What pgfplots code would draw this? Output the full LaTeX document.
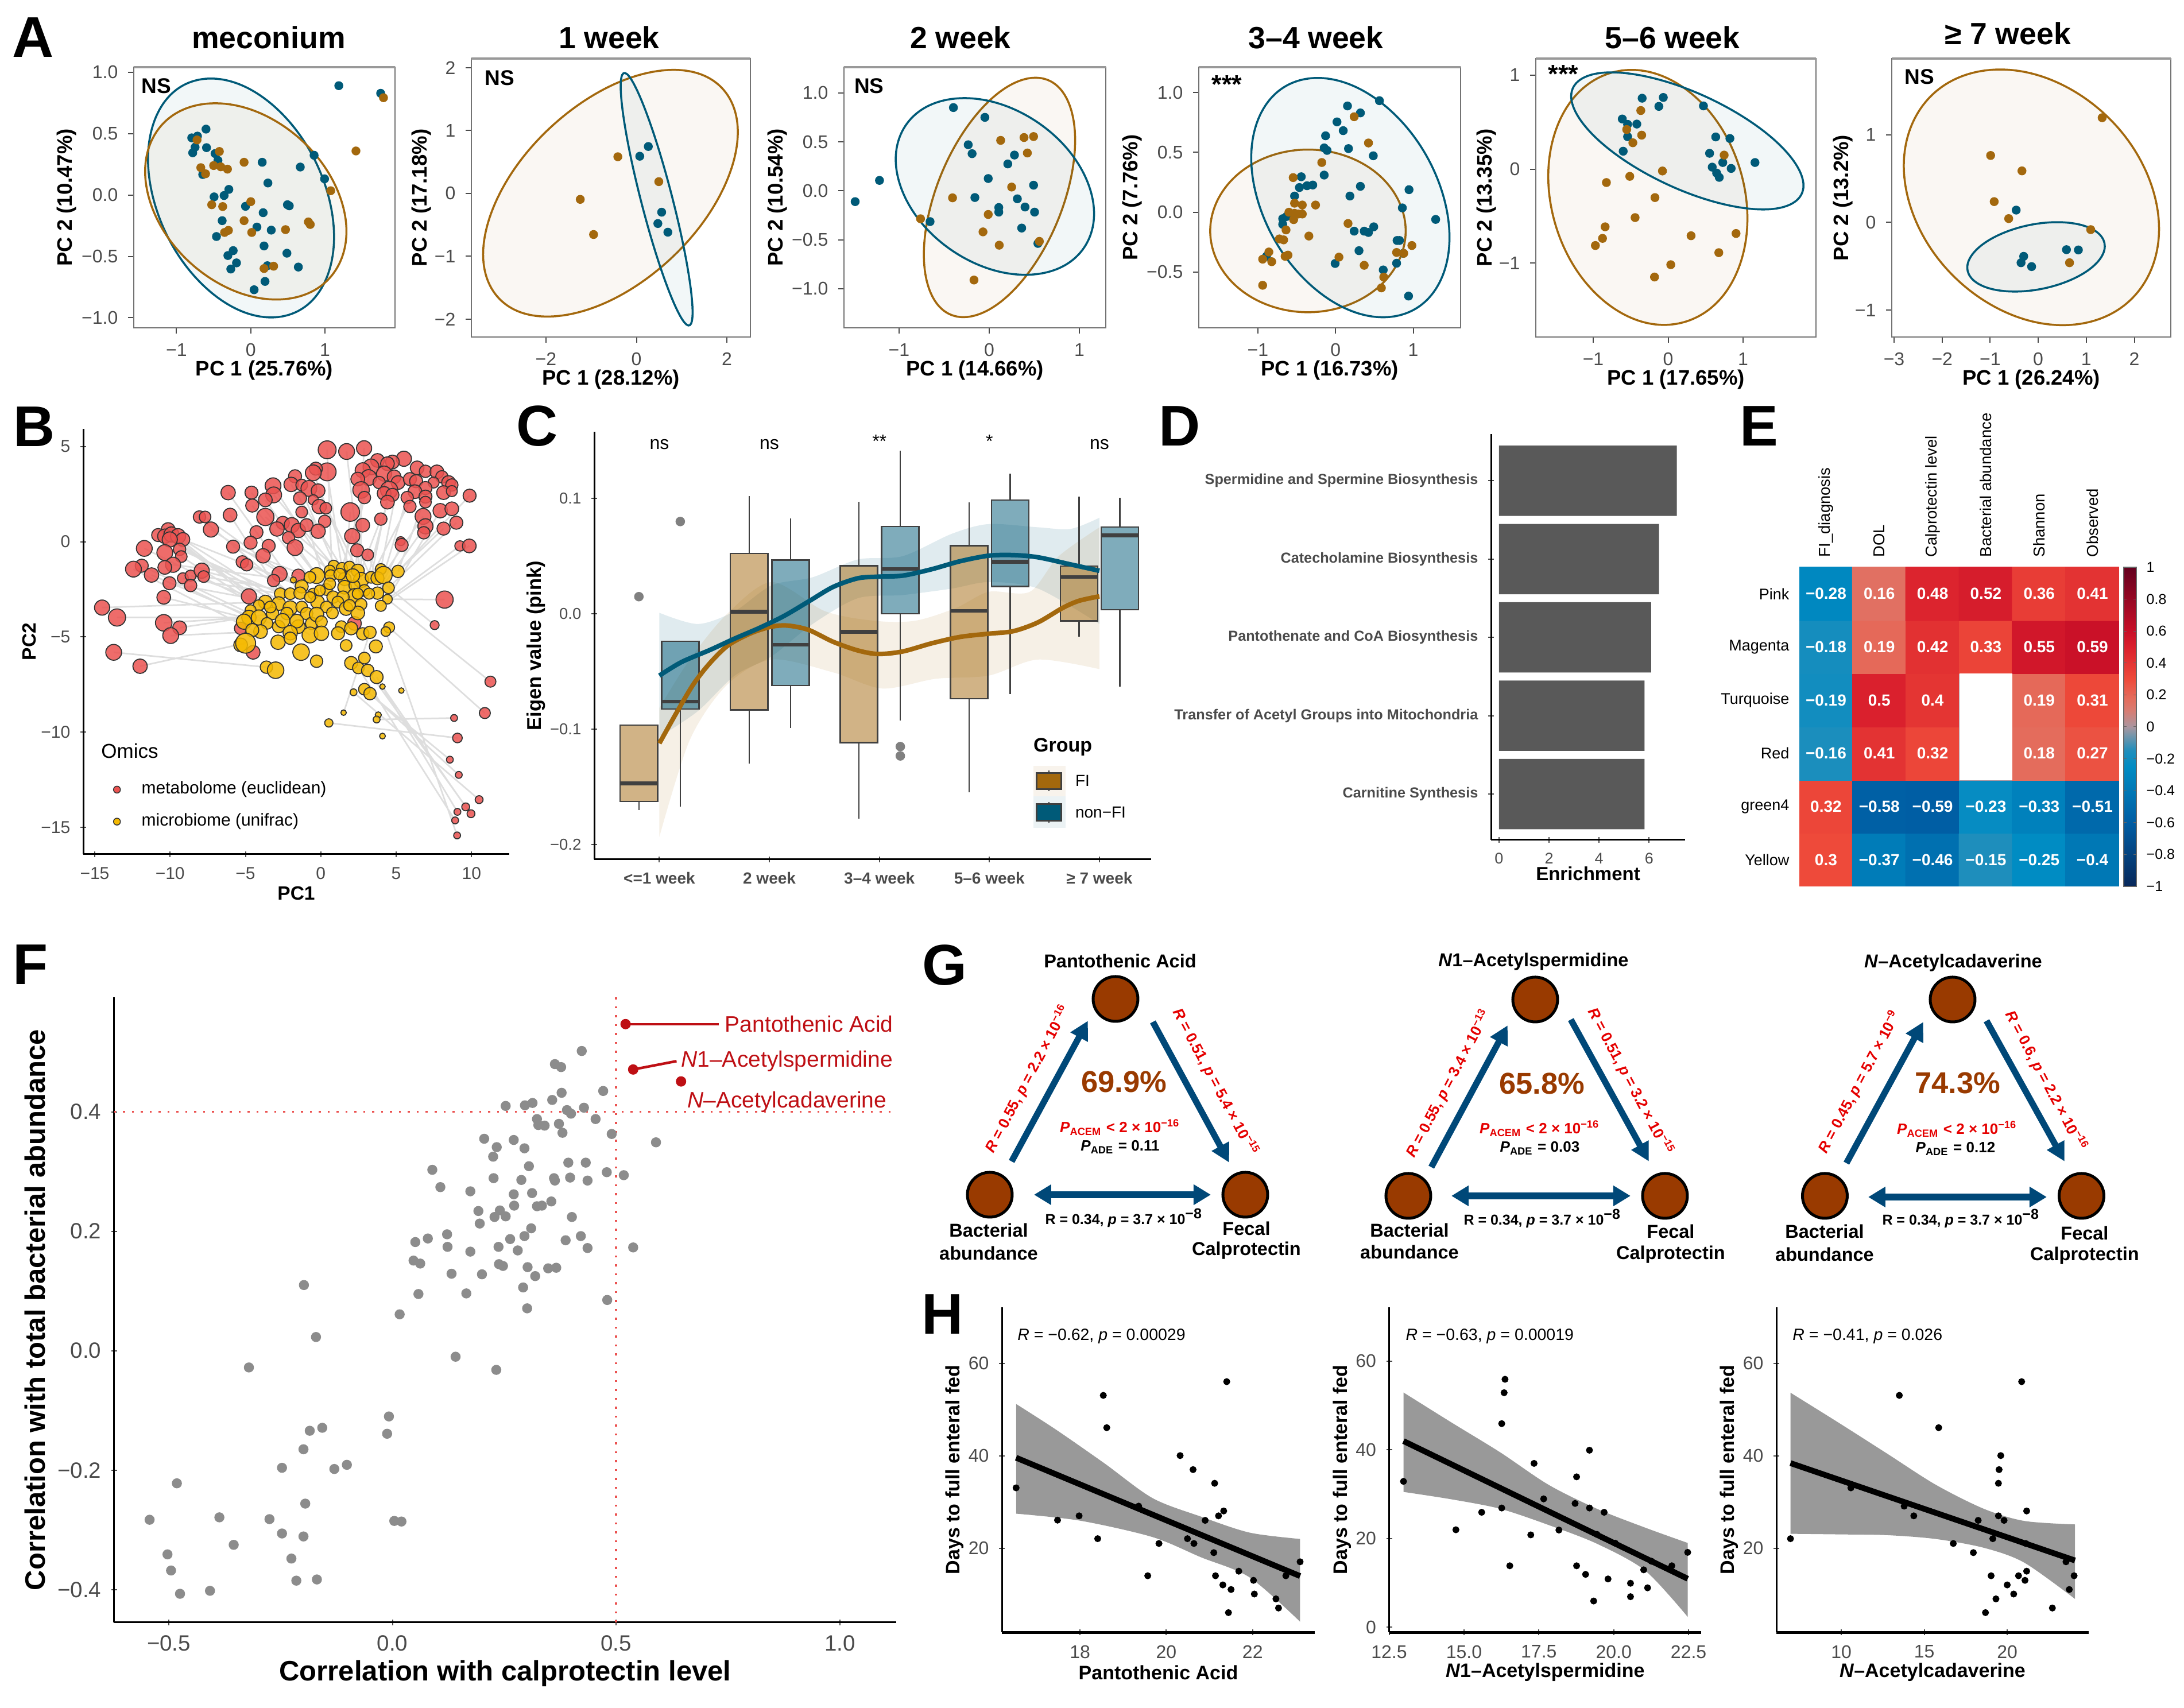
\documentclass[border=0pt]{standalone}
\usepackage{fontspec}
\setmainfont{Liberation Sans}
\usepackage{pgfplots}
\usepackage{pgfplotstable}
\pgfplotsset{compat=1.18}
\usepgfplotslibrary{statistics,fillbetween}
\usetikzlibrary{arrows.meta}

\definecolor{fi}{RGB}{163,104,13}
\definecolor{nonfi}{RGB}{0,90,120}
\definecolor{tickgray}{RGB}{75,75,75}
\definecolor{cred}{RGB}{235,82,80}
\definecolor{cyel}{RGB}{245,185,0}
\definecolor{hot}{RGB}{190,15,20}
\definecolor{node}{RGB}{153,58,0}
\definecolor{arr}{RGB}{0,72,120}
\newcommand{\fs}[1]{\fontsize{#1}{#1}\selectfont}

\pgfplotsset{
  colormap={hm}{rgb255(0)=(8,40,90) rgb255(40)=(0,93,163) rgb255(75)=(0,140,195) rgb255(85)=(30,142,188) rgb255(95)=(120,150,170) rgb255(100)=(170,150,160) rgb255(110)=(215,125,115) rgb255(118)=(228,108,92) rgb255(130)=(238,74,58) rgb255(150)=(218,32,45) rgb255(160)=(200,15,40) rgb255(200)=(100,0,30)},
  xoff/.style={xlabel style={at={([yshift=-#1]axis description cs:0.5,0)},anchor=center}},
  yoff/.style={ylabel style={at={([xshift=-#1]axis description cs:0,0.5)},anchor=center}},
  every axis title shift=0pt,
  ttl/.style 2 args={title style={at={([xshift=#1,yshift=#2]axis description cs:0.5,1)},anchor=center,font=\fs{10.7}\bfseries}},
  base/.style={scale only axis,anchor=south west,tick align=outside,scaled ticks=false,
    /pgf/number format/assume math mode=true,
    tick label style={font=\fs{6.4},text=tickgray},tick style={tickgray,line width=.4pt},major tick length=2pt,
    label style={font=\fs{7.3}\bfseries}},
  pca/.style={base,axis line style={draw=black!55,line width=.5pt},xtick pos=bottom,ytick pos=left,xoff=14.8pt,
    after end axis/.code={\draw[black!40,line width=.9pt] (rel axis cs:0,1) -- (rel axis cs:1,1);}},
  clean/.style={base,axis lines=left,axis line style={-,line width=.6pt,black}},
  elT/.style={smooth cycle,tension=.67,no markers,draw=nonfi,line width=.7pt,fill=nonfi,fill opacity=.05},
  elF/.style={smooth cycle,tension=.67,no markers,draw=fi,line width=.7pt,fill=fi,fill opacity=.05},
  dotT/.style={only marks,mark=*,mark size=1.35pt,mark options={fill=nonfi,draw=nonfi}},
  dotF/.style={only marks,mark=*,mark size=1.35pt,mark options={fill=fi,draw=fi}},
  bub/.style={scatter,only marks,mark=*,visualization depends on={1.2*\thisrow{s}\as\ms},
    scatter/use mapped color={draw=black!80,fill=#1,fill opacity=.85,line width=.35pt},
    scatter/@pre marker code/.append style={/tikz/mark size=\ms}},
  boxF/.style={boxplot/draw direction=y,boxplot/box extend=.34,boxplot/whisker extend=0,boxplot/every median/.style={line width=1.3pt},
    draw=black!75,line width=.5pt,fill=fi,fill opacity=.5,mark=*,mark size=1.4pt,mark options={fill=gray,draw=gray,fill opacity=1}},
  boxT/.style={boxF,fill=nonfi},
  edge/.style={smooth,no markers,draw=none,forget plot},
  hline/.style={no markers,line width=2pt,black},
  hband/.style={draw=none,fill=black!40},
  hdot/.style={only marks,mark=*,mark size=1pt,black},
  hax/.style={clean,x axis line style={line width=1pt},xoff=14pt,yoff=16.4pt,label style={font=\fs{6.8}\bfseries},
    ylabel={Days to full enteral fed}},
}

\pgfplotstableread{
x y v lab
0 0 0.30 0.3
1 0 -0.37 −0.37
2 0 -0.46 −0.46
3 0 -0.15 −0.15
4 0 -0.25 −0.25
5 0 -0.40 −0.4
0 1 0.32 0.32
1 1 -0.58 −0.58
2 1 -0.59 −0.59
3 1 -0.23 −0.23
4 1 -0.33 −0.33
5 1 -0.51 −0.51
0 2 -0.16 −0.16
1 2 0.41 0.41
2 2 0.32 0.32
3 2 0 {}
4 2 0.18 0.18
5 2 0.27 0.27
0 3 -0.19 −0.19
1 3 0.50 0.5
2 3 0.40 0.4
3 3 0 {}
4 3 0.19 0.19
5 3 0.31 0.31
0 4 -0.18 −0.18
1 4 0.19 0.19
2 4 0.42 0.42
3 4 0.33 0.33
4 4 0.55 0.55
5 4 0.59 0.59
0 5 -0.28 −0.28
1 5 0.16 0.16
2 5 0.48 0.48
3 5 0.52 0.52
4 5 0.36 0.36
5 5 0.41 0.41
}\hmtab

\pgfplotstableread{
x y s
0.42 4.83 2.6
1.71 4.74 2.3
2.87 4.91 2.2
3.76 4.27 2.0
5.51 4.36 2.2
4.75 4.19 2.0
4.42 4.10 2.0
3.33 3.93 2.3
2.78 3.75 2.2
4.20 3.58 2.2
3.17 3.37 2.3
2.45 3.29 2.0
2.67 2.72 2.4
2.89 2.32 1.8
3.87 3.11 1.8
4.86 3.41 2.0
5.12 3.11 2.0
4.53 2.72 2.5
4.20 2.54 2.0
4.75 2.46 1.9
4.42 2.08 2.0
6.39 3.88 2.0
6.94 3.70 1.8
7.70 3.67 2.0
8.03 3.41 1.8
8.47 3.11 2.0
8.69 2.98 1.8
8.14 2.58 2.0
8.69 2.66 1.6
7.48 3.11 1.6
5.91 3.29 1.9
6.32 3.18 1.9
6.94 2.82 1.9
6.24 2.63 2.0
6.94 2.37 1.9
5.73 2.32 1.8
5.91 1.85 1.8
6.94 2.08 1.7
7.92 1.63 2.1
8.69 1.73 2.0
9.87 2.42 1.9
6.78 1.33 2.3
6.94 0.81 2.2
6.83 0.47 1.8
8.14 0.69 1.9
8.99 1.00 1.9
9.23 -0.22 1.5
9.85 -0.22 2.0
5.30 0.03 1.3
5.36 -0.17 1.9
3.98 1.19 1.8
2.78 0.87 2.0
1.95 1.56 2.7
2.08 0.29 2.2
2.41 -0.45 1.9
3.11 -0.69 1.7
0.42 3.67 2.6
-0.33 3.84 1.9
-0.50 3.62 2.3
-1.71 3.44 1.9
-1.97 3.01 2.1
-1.27 2.98 1.7
-0.79 2.80 2.3
-0.18 2.68 2.0
-3.17 2.94 2.3
-3.13 2.46 2.3
-3.68 2.20 2.0
-4.60 2.58 1.9
-4.55 1.90 1.9
-6.15 2.58 2.1
-6.02 1.40 2.0
-8.05 1.30 1.8
-7.68 1.30 1.7
-7.29 0.64 2.2
-1.38 2.28 1.9
-0.50 2.20 1.5
-0.11 1.85 2.1
0.33 1.76 1.7
-1.27 1.56 1.7
-3.68 1.30 2.5
-2.52 0.99 1.9
-1.93 0.87 2.2
-2.91 0.67 2.1
-1.49 0.59 2.1
-0.94 0.87 1.9
0.26 1.07 1.8
-0.18 0.55 2.1
-4.27 0.50 1.9
-4.66 -0.05 1.9
-2.14 0.21 1.8
-1.71 -0.31 2.3
-3.46 -0.22 1.9
-3.83 -0.74 2.1
-5.82 -0.26 1.9
-5.21 -1.06 1.8
-4.92 -1.21 1.8
-10.13 0.64 2.0
-10.79 0.35 1.9
-10.35 0.29 2.1
-9.91 0.38 2.2
-9.47 0.29 2.2
-9.15 0.12 2.0
-10.02 0.12 2.2
-11.71 -0.35 2.3
-10.35 -0.57 2.3
-9.37 -0.40 1.8
-9.26 -0.78 1.7
-9.80 -1.21 2.2
-10.35 -1.35 2.0
-11.88 -1.26 1.9
-12.43 -1.44 2.3
-11.23 -1.75 2.1
-10.04 -2.18 1.9
-9.15 -1.92 1.6
-8.64 -1.78 1.6
-8.64 -2.30 1.8
-7.90 -1.52 2.2
-7.77 -1.83 1.7
-10.42 -2.92 2.0
-14.51 -3.46 2.2
-13.52 -3.98 2.5
-10.42 -4.26 2.4
-9.37 -4.52 2.0
-9.96 -4.93 2.3
-13.74 -5.81 2.3
-11.99 -6.54 2.1
-2.74 -1.70 2.2
-3.13 -2.04 1.8
-1.49 -1.78 1.9
-4.77 -2.87 2.2
-5.32 -4.55 1.8
-4.49 -5.81 2.0
2.23 -4.29 2.0
8.21 -3.04 2.5
7.55 -4.38 1.3
11.25 -7.35 1.6
10.88 -9.00 1.6
8.84 -9.26 1.0
9.06 -10.31 1.4
8.56 -11.45 1.0
9.15 -12.25 1.0
10.50 -13.55 1.15
9.61 -13.93 1.15
9.06 -14.19 1.0
9.96 -14.29 1.15
8.91 -14.64 1.0
9.04 -15.43 1.0
}\redtab

\pgfplotstableread{
x y s
0.85 -1.26 1.6
1.40 -1.38 1.6
1.90 -1.31 1.6
2.45 -1.52 1.9
0.59 -1.52 1.6
3.98 -1.44 1.6
5.12 -1.56 1.8
-0.28 -1.78 2.3
0.66 -1.78 1.7
1.58 -1.96 1.9
2.67 -2.01 2.2
3.33 -1.87 1.7
3.76 -1.92 1.9
4.16 -1.75 2.5
-1.82 -2.01 0.9
-0.72 -1.87 1.7
-1.27 -2.35 1.9
1.58 -2.39 2.0
0.37 -2.51 1.7
2.23 -2.30 1.6
2.89 -2.56 1.7
4.49 -2.42 1.7
3.76 -2.70 1.8
-2.69 -2.73 1.7
-2.03 -2.73 1.7
-1.38 -2.70 1.8
-0.50 -2.73 1.6
0.81 -2.91 1.8
2.23 -2.82 2.0
1.47 -2.91 1.8
4.42 -3.02 1.4
-3.68 -3.17 2.0
-2.80 -3.25 2.0
-0.22 -3.17 2.0
1.13 -3.17 1.7
2.67 -3.29 1.7
3.98 -3.37 1.6
-2.03 -3.48 2.1
-1.27 -3.43 1.7
0.37 -3.43 1.7
1.68 -3.51 2.0
-4.11 -3.34 1.6
-3.20 -3.77 1.8
2.45 -3.74 2.0
0.77 -3.74 1.7
-0.94 -3.77 1.8
-2.25 -3.77 1.8
1.90 -3.34 1.7
3.20 -2.73 1.6
0.59 -2.21 1.7
-0.07 -2.56 1.6
1.25 -1.70 1.7
2.12 -1.78 2.0
-0.61 -4.29 1.8
-1.49 -4.46 2.0
-2.80 -4.46 1.8
-4.66 -3.60 1.6
-3.35 -3.43 1.7
2.45 -2.73 1.6
-0.72 -2.91 1.6
-4.77 -3.98 2.1
-4.11 -3.98 2.2
-2.54 -4.15 2.1
-1.60 -4.17 2.0
-0.28 -3.82 2.1
-3.57 -4.29 1.7
-5.10 -4.20 2.2
0.04 -4.20 1.7
1.36 -4.46 1.7
2.01 -4.55 1.9
4.53 -4.50 1.6
4.31 -4.72 1.4
1.14 -4.81 1.9
2.78 -4.84 1.8
3.26 -4.76 1.8
-4.00 -4.72 2.0
-4.55 -4.64 1.9
-2.03 -4.78 2.1
-0.72 -4.90 2.3
0.04 -4.81 2.1
-5.32 -5.42 2.0
-4.99 -5.33 2.9
-2.84 -5.28 2.1
-2.03 -5.07 1.8
1.68 -5.45 1.7
3.65 -5.50 1.9
-1.31 -5.80 2.4
-0.28 -6.28 1.8
-3.61 -6.59 1.8
-3.00 -6.75 2.4
2.01 -6.37 1.9
2.89 -6.11 1.7
2.49 -6.63 1.7
3.11 -6.76 1.8
3.70 -7.11 1.9
2.89 -7.75 1.7
3.26 -7.98 1.8
2.17 -7.91 1.0
4.09 -7.61 0.8
5.34 -7.82 0.8
1.51 -8.98 0.8
0.53 -9.52 1.2
3.81 -9.10 0.9
3.70 -9.34 1.0
4.09 -10.21 0.85
}\yeltab

\begin{document}
\begin{tikzpicture}

% ---------- A
\begin{axis}[pca,at={(46.6pt,480.6pt)},width=91pt,height=90.8pt,xmin=-1.576,xmax=1.943,ymin=-1.082,ymax=1.042,
  xtick={-1,0,1},xticklabels={−1,0,1},ytick={-1,-0.5,0,0.5,1},yticklabels={−1.0,−0.5,0.0,0.5,1.0},
  title={meconium},ttl={1.5pt}{10.4pt},xlabel={PC 1 (25.76\%)},ylabel={PC 2 (10.47\%)},yoff=23.4pt]
\addplot[elT] coordinates {(1.122,-.341)(.755,.403)(-.131,.897)(-1.017,.851)(-1.384,.293)(-1.017,-.451)(-.131,-.945)(.755,-.899)};
\addplot[elF] coordinates {(1.289,-.296)(.892,.314)(-.067,.71)(-1.026,.659)(-1.423,.192)(-1.026,-.418)(-.067,-.814)(.892,-.763)};
\addplot[dotT] coordinates {(1.186,.891)(1.75,.829)(-.603,.537)(-.718,.48)(-.795,.466)(-.75,.39)(-.782,.344)(-.596,.386)(-.481,.338)(-.442,.282)(.154,.267)(.667,.228)(.853,.324)(.994,.132)(.231,.098)(-.295,.046)(-.359,-.004)(-.494,-.015)(-.071,-.092)(.167,-.144)(.494,-.079)(.519,-.088)(-.385,-.209)(.083,-.261)(.276,-.286)(-.462,-.338)(.179,-.415)(-.237,-.453)(-.308,-.493)(.487,-.474)(-.192,-.553)(-.269,-.603)(.224,-.576)(.641,-.587)(.192,-.704)(.045,-.772)(-.647,.167)};
\addplot[dotF] coordinates {(1.788,.793)(1.417,.359)(-.724,.449)(-.423,.355)(-.09,.267)(-.673,.223)(-.5,.24)(-.404,.23)(-.314,.211)(-.609,.173)(1.077,.035)(0,-.054)(-.526,-.079)(-.378,-.094)(-.09,-.209)(.776,-.219)(.801,-.24)(.468,-.282)(-.301,-.288)(-.353,-.305)(.013,-.305)(.179,-.599)(.308,-.58)};
\node[font=\fs{7.4}\bfseries] at (rel axis cs:.086,.928) {NS};
\end{axis}

\begin{axis}[pca,at={(164.2pt,477.4pt)},width=97.2pt,height=97pt,xmin=-3.65,xmax=2.52,ymin=-2.283,ymax=2.146,
  xtick={-2,0,2},xticklabels={−2,0,2},ytick={-2,-1,0,1,2},yticklabels={−2,−1,0,1,2},
  title={1 week},ttl={-.6pt}{7.4pt},xlabel={PC 1 (28.12\%)},ylabel={PC 2 (17.18\%)},yoff=17.4pt]
\addplot[elF] coordinates {(2.242,.976)(1.417,1.897)(-.574,1.71)(-2.565,.523)(-3.39,-.968)(-2.565,-1.889)(-.574,-1.702)(1.417,-.515)};
\addplot[elT] coordinates {(1.242,-1.889)(1.009,-.726)(.447,.808)(-.115,1.815)(-.348,1.705)(-.115,.542)(.447,-.992)(1.009,-1.999)};
\addplot[dotT] coordinates {(.263,.747)(.074,.592)(.558,-.298)(.474,-.478)(.695,-.616)};
\addplot[dotF] coordinates {(-.411,.584)(.495,.188)(-1.242,-.094)(-.947,-.653)};
\node[font=\fs{7.4}\bfseries] at (rel axis cs:.101,.93) {NS};
\end{axis}

\begin{axis}[pca,at={(294pt,480.6pt)},width=91.2pt,height=90.8pt,xmin=-1.611,xmax=1.293,ymin=-1.399,ymax=1.264,
  xtick={-1,0,1},xticklabels={−1,0,1},ytick={-1,-0.5,0,0.5,1},yticklabels={−1.0,−0.5,0.0,0.5,1.0},
  title={2 week},ttl={-5pt}{10.4pt},xlabel={PC 1 (14.66\%)},ylabel={PC 2 (10.54\%)},yoff=23.2pt]
\addplot[elF] coordinates {(.953,.516)(.707,1.106)(.114,1.009)(-.479,.282)(-.725,-.65)(-.479,-1.24)(.114,-1.143)(.707,-.416)};
\addplot[elT] coordinates {(1.163,-.233)(.841,.456)(.063,.904)(-.715,.849)(-1.037,.323)(-.715,-.366)(.063,-.814)(.841,-.759)};
\addplot[dotT] coordinates {(-1.487,-.11)(-1.217,.107)(-.397,.851)(-.048,.751)(-.233,.471)(-.19,.38)(.28,.366)(.206,.275)(-.011,.126)(.492,.058)(-.159,-.068)(.312,-.081)(.397,-.165)(.106,-.17)(.106,-.217)(.503,-.217)(-.656,-.314)(.36,-.38)(.54,-.537)};
\addplot[dotF] coordinates {(.127,.516)(.386,.545)(.492,.555)(.423,.387)(.249,.039)(-.407,-.071)(-.011,-.241)(-.762,-.285)(-.069,-.419)(.111,-.555)(.556,-.516)(-.169,-.911)};
\node[font=\fs{7.4}\bfseries] at (rel axis cs:.096,.928) {NS};
\end{axis}

\begin{axis}[pca,at={(417.6pt,480.6pt)},width=91.2pt,height=90.8pt,xmin=-1.761,xmax=1.609,ymin=-.965,ymax=1.211,
  xtick={-1,0,1},xticklabels={−1,0,1},ytick={-0.5,0,0.5,1},yticklabels={−0.5,0.0,0.5,1.0},
  title={3–4 week},ttl={-4.8pt}{10.4pt},xlabel={PC 1 (16.73\%)},ylabel={PC 2 (7.76\%)},yoff=23.2pt]
\addplot[elF] coordinates {(.902,-.156)(.533,.324)(-.356,.523)(-1.245,.324)(-1.614,-.156)(-1.245,-.636)(-.356,-.835)(.533,-.636)};
\addplot[elT] coordinates {(1.466,-.21)(1.092,.554)(.19,1.065)(-.712,1.023)(-1.086,.454)(-.712,-.31)(.19,-.821)(1.092,-.779)};
\addplot[dotT] coordinates {(.564,.931)(.153,.887)(.319,.829)(.018,.754)(.098,.681)(-.129,.638)(-.147,.537)(-.11,.516)(.166,.531)(.485,.471)(-.147,.31)(-.442,.296)(-.466,.206)(-.368,.221)(-.294,.227)(.319,.216)(.945,.188)(-.528,.135)(.184,.135)(.859,.036)(-.632,-.036)(-.681,-.054)(-.681,-.101)(1.288,-.06)(.239,-.158)(.491,-.122)(.368,-.158)(.423,-.169)(.791,-.236)(.822,-.236)(.301,-.321)(.871,-.343)(-.89,-.368)(-.006,-.428)(.785,-.426)(.613,-.482)(.939,-.7)};
\addplot[dotF] coordinates {(.239,.797)(.423,.578)(-.178,.415)(-.546,.289)(-.528,.075)(-.429,.06)(-.258,.06)(-.601,0)(-.528,-.009)(-.429,-.015)(-.479,-.015)(-.54,-.062)(.16,-.094)(-.638,-.148)(-.344,-.199)(-.724,-.223)(-.669,-.231)(.982,-.278)(.785,-.336)(.877,-.343)(-.859,-.332)(-.939,-.392)(-.822,-.413)(-.613,-.358)(-.65,-.368)(.043,-.375)(.368,-.443)(.62,-.542)(-.939,-.61)(.589,-.632)};
\node[font=\fs{9}\bfseries] at (rel axis cs:.107,.934) {***};
\end{axis}

\begin{axis}[pca,at={(535pt,477.4pt)},width=97.6pt,height=97pt,xmin=-1.766,xmax=1.973,ymin=-1.785,ymax=1.177,
  xtick={-1,0,1},xticklabels={−1,0,1},ytick={-1,0,1},yticklabels={−1,0,1},
  title={5–6 week},ttl={-1.2pt}{7.4pt},xlabel={PC 1 (17.65\%)},ylabel={PC 2 (13.35\%)},yoff=17.2pt]
\addplot[elF] coordinates {(1.058,-.523)(.669,.488)(-.271,1.038)(-1.211,.804)(-1.6,-.077)(-1.211,-1.088)(-.271,-1.638)(.669,-1.404)};
\addplot[elT] coordinates {(1.806,-.174)(1.352,.356)(.256,.854)(-.84,1.028)(-1.294,.776)(-.84,.246)(.256,-.252)(1.352,-.426)};
\addplot[dotT] coordinates {(-.347,.755)(-.065,.763)(-.124,.668)(.471,.673)(-.612,.534)(-.541,.477)(-.418,.48)(-.541,.346)(.635,.343)(.824,.327)(-.6,.191)(.553,.169)(.729,.071)(1.159,.071)(.588,.022)(.841,.008)(.647,-.041)(.682,-.087)};
\addplot[dotF] coordinates {(-.365,.624)(-.553,.422)(-.353,.362)(-.471,.281)(.747,.15)(-.076,-.019)(-.512,-.076)(-.824,-.142)(-.176,-.302)(-.441,-.515)(-.841,-.613)(-.876,-.736)(-.971,-.812)(.306,-.708)(.906,-.684)(.676,-.888)(.035,-1.016)(-.182,-1.147)};
\node[font=\fs{9}\bfseries] at (rel axis cs:.098,.944) {***};
\end{axis}

\begin{axis}[pca,at={(659pt,477.4pt)},width=97.2pt,height=97pt,xmin=-3.048,xmax=2.759,ymin=-1.308,ymax=1.872,
  xtick={-3,-2,-1,0,1,2},xticklabels={−3,−2,−1,0,1,2},ytick={-1,0,1},yticklabels={−1,0,1},
  title={≥ 7 week},ttl={-8.2pt}{8.8pt},xlabel={PC 1 (26.24\%)},ylabel={PC 2 (13.2\%)},yoff=17pt]
\addplot[elF] coordinates {(2.514,-.074)(1.736,1.032)(-.142,1.702)(-2.02,1.543)(-2.798,.648)(-2.02,-.458)(-.142,-1.128)(1.736,-.969)};
\addplot[elT] coordinates {(1.385,-.271)(.966,-.04)(-.046,-.016)(-1.058,-.213)(-1.477,-.515)(-1.058,-.746)(-.046,-.77)(.966,-.573)};
\addplot[dotT] coordinates {(-.459,.141)(-.303,-.387)(-.358,-.46)(-.138,-.504)(.587,-.311)(.835,-.314)};
\addplot[dotF] coordinates {(1.33,1.196)(-.991,.765)(-.339,.589)(-.917,.238)(-.615,.044)(1.092,-.082)(.651,-.46)};
\node[font=\fs{7.4}\bfseries] at (rel axis cs:.099,.934) {NS};
\end{axis}

% ---------- B
\begin{axis}[clean,at={(29pt,297.2pt)},width=148.4pt,height=148.2pt,xmin=-15.76,xmax=12.5,ymin=-16.42,ymax=5.93,
  xtick={-15,-10,-5,0,5,10},xticklabels={−15,−10,−5,0,5,10},ytick={-15,-10,-5,0,5},yticklabels={−15,−10,−5,0,5},
  tick label style={font=\fs{6}},xlabel={PC1},ylabel={PC2},xoff=13.6pt,yoff=18.9pt,label style={font=\fs{6.7}\bfseries},
  unbounded coords=jump,legend cell align=left,
  legend style={draw=none,fill=none,at={(axis cs:-13.98,-12.1)},anchor=north west,font=\fs{6},row sep=1.3pt,inner sep=1pt}]
\addplot[forget plot,no markers,black,opacity=.13,line width=.55pt] coordinates {
(-14.51,-3.46)(-3.68,-3.17)(nan,nan)(-13.52,-3.98)(-4.11,-3.98)(nan,nan)(-13.74,-5.81)(-3.61,-6.59)(nan,nan)
(-11.99,-6.54)(-4.99,-5.33)(nan,nan)(-10.42,-4.26)(-4.77,-3.98)(nan,nan)(-9.37,-4.52)(-3.2,-3.77)(nan,nan)
(-9.96,-4.93)(-4,-4.72)(nan,nan)(-10.42,-2.92)(-3.57,-4.29)(nan,nan)(-10.04,-2.18)(-2.8,-3.25)(nan,nan)
(-9.15,-1.92)(-2.69,-2.73)(nan,nan)(-8.64,-1.78)(-3.68,-3.17)(nan,nan)(-8.64,-2.3)(-2.03,-4.78)(nan,nan)
(-7.9,-1.52)(-2.03,-2.73)(nan,nan)(-7.77,-1.83)(-1.38,-2.7)(nan,nan)(-10.13,.64)(-3.2,-3.77)(nan,nan)
(-10.35,.29)(-2.8,-3.25)(nan,nan)(-9.91,.38)(-4.11,-3.34)(nan,nan)(-9.47,.29)(-2.03,-3.48)(nan,nan)
(-9.15,.12)(-1.27,-2.35)(nan,nan)(-10.02,.12)(-3.68,-3.17)(nan,nan)(-9.37,-.4)(-2.69,-2.73)(nan,nan)
(-9.26,-.78)(-2.54,-4.15)(nan,nan)(-9.8,-1.21)(-1.82,-2.01)(nan,nan)(-11.71,-.35)(-4.11,-3.34)(nan,nan)
(-11.88,-1.26)(-4.77,-3.98)(nan,nan)(-12.43,-1.44)(-4.55,-4.64)(nan,nan)(-11.23,-1.75)(-3.57,-4.29)(nan,nan)
(-8.05,1.3)(-2.03,-2.73)(nan,nan)(-7.68,1.3)(-1.27,-2.35)(nan,nan)(-7.29,.64)(-.5,-2.73)(nan,nan)
(-6.15,2.58)(-1.38,-2.7)(nan,nan)(-6.02,1.4)(-2.69,-2.73)(nan,nan)(-5.82,-.26)(-.72,-1.87)(nan,nan)
(-5.21,-1.06)(-1.27,-2.35)(nan,nan)(-4.92,-1.21)(-2.03,-2.73)(nan,nan)(-4.6,2.58)(-.28,-1.78)(nan,nan)
(-4.55,1.9)(-.72,-1.87)(nan,nan)(-3.68,2.2)(.37,-2.51)(nan,nan)(-3.68,1.3)(.59,-1.52)(nan,nan)
(-3.17,2.94)(.66,-1.78)(nan,nan)(-3.13,2.46)(1.58,-1.96)(nan,nan)(-2.52,.99)(.85,-1.26)(nan,nan)
(-1.97,3.01)(1.4,-1.38)(nan,nan)(-1.71,3.44)(1.58,-2.39)(nan,nan)(-1.38,2.28)(.37,-2.51)(nan,nan)
(-.5,3.62)(1.9,-1.31)(nan,nan)(-.18,2.68)(2.45,-1.52)(nan,nan)(.42,4.83)(.81,-2.91)(nan,nan)
(.42,3.67)(1.4,-1.38)(nan,nan)(1.71,4.74)(2.67,-2.01)(nan,nan)(2.87,4.91)(2.45,-1.52)(nan,nan)
(1.95,1.56)(1.47,-2.91)(nan,nan)(2.08,.29)(3.33,-1.87)(nan,nan)(2.41,-.45)(2.23,-2.3)(nan,nan)
(3.11,-.69)(3.76,-1.92)(nan,nan)(3.33,3.93)(1.9,-1.31)(nan,nan)(3.17,3.37)(1.4,-1.38)(nan,nan)
(2.67,2.72)(2.67,-2.01)(nan,nan)(4.42,2.08)(2.89,-2.56)(nan,nan)(4.53,2.72)(3.33,-1.87)(nan,nan)
(3.98,1.19)(1.68,-3.51)(nan,nan)(5.36,-.17)(3.76,-2.7)(nan,nan)(5.12,3.11)(3.98,-1.44)(nan,nan)
(5.73,2.32)(4.16,-1.75)(nan,nan)(6.24,2.63)(2.89,-2.56)(nan,nan)(6.94,2.37)(5.12,-1.56)(nan,nan)
(6.78,1.33)(4.16,-1.75)(nan,nan)(6.94,.81)(3.76,-2.7)(nan,nan)(7.92,1.63)(4.42,-3.02)(nan,nan)
(8.14,.69)(5.12,-1.56)(nan,nan)(8.99,1)(4.49,-2.42)(nan,nan)(9.87,2.42)(5.12,-1.56)(nan,nan)
(9.23,-.22)(4.42,-3.02)(nan,nan)(9.85,-.22)(3.98,-3.37)(nan,nan)(8.21,-3.04)(4.42,-3.02)(nan,nan)
(7.55,-4.38)(3.76,-1.92)(nan,nan)(11.25,-7.35)(4.42,-3.02)(nan,nan)(10.88,-9)(4.53,-4.5)(nan,nan)
(8.84,-9.26)(3.7,-9.34)(nan,nan)(9.06,-10.31)(.53,-9.52)(nan,nan)(8.56,-11.45)(2.89,-7.75)(nan,nan)
(9.15,-12.25)(3.26,-7.98)(nan,nan)(10.5,-13.55)(2.17,-7.91)(nan,nan)(9.61,-13.93)(4.09,-7.61)(nan,nan)
(9.06,-14.19)(3.7,-7.11)(nan,nan)(9.96,-14.29)(3.11,-6.76)(nan,nan)(8.91,-14.64)(2.49,-6.63)(nan,nan)
(9.04,-15.43)(4.31,-4.72)(nan,nan)(-4.77,-2.87)(-.72,-4.9)(nan,nan)(1.51,-8.98)(3.26,-4.76)};
\addplot[bub=cred,forget plot] table[x=x,y=y] {\redtab};
\addplot[bub=cyel,forget plot] table[x=x,y=y] {\yeltab};
\addlegendimage{only marks,mark=*,mark size=1.2pt,mark options={fill=cred,draw=black!80,line width=.3pt}}
\addlegendentry{\hspace*{5.4pt}metabolome (euclidean)}
\addlegendimage{only marks,mark=*,mark size=1.2pt,mark options={fill=cyel,draw=black!80,line width=.3pt}}
\addlegendentry{\hspace*{5.4pt}microbiome (unifrac)}
\node[font=\fs{7},anchor=west,inner sep=0pt] at (axis cs:-14.6,-11) {Omics};
\end{axis}

% ---------- C
\begin{axis}[clean,at={(207pt,295.4pt)},width=194pt,height=149pt,xmin=-.592,xmax=4.47,ymin=-.2129,ymax=.1577,
  xtick={0,1,2,3,4},xticklabels={{<=1 week},{2 week},{3–4 week},{5–6 week},{≥ 7 week}},
  ytick={-.2,-.1,0,.1},yticklabels={−0.2,−0.1,0.0,0.1},
  xticklabel style={font=\fs{5.6}\bfseries},yticklabel style={font=\fs{5.5}},
  ylabel={Eigen value (pink)},yoff=20.2pt,label style={font=\fs{6.9}\bfseries}]
\addplot[boxF,boxplot prepared={draw position=-.186,lower whisker=-.170,lower quartile=-.1626,median=-.1469,upper quartile=-.0964,upper whisker=-.0964}] table[row sep=\\,y index=0] {0.0148\\};
\addplot[boxT,boxplot prepared={draw position=.19,lower whisker=-.1673,lower quartile=-.0827,median=-.076,upper quartile=-.024,upper whisker=-.024}] table[row sep=\\,y index=0] {0.0799\\};
\addplot[boxF,boxplot prepared={draw position=.816,lower whisker=-.1296,lower quartile=-.0832,median=.0017,upper quartile=.0522,upper whisker=.1022}] coordinates {};
\addplot[boxT,boxplot prepared={draw position=1.192,lower whisker=-.0989,lower quartile=-.0623,median=-.0268,upper quartile=.0464,upper whisker=.0824}] coordinates {};
\addplot[boxF,boxplot prepared={draw position=1.814,lower whisker=-.1777,lower quartile=-.1117,median=-.0156,upper quartile=.0416,upper whisker=.0972}] coordinates {};
\addplot[boxT,boxplot prepared={draw position=2.19,lower whisker=-.0927,lower quartile=0,median=.0388,upper quartile=.0757,upper whisker=.1413}] table[row sep=\\,y index=0] {-0.1151\\-0.1232\\};
\addplot[boxF,boxplot prepared={draw position=2.816,lower whisker=-.1545,lower quartile=-.0737,median=.0025,upper quartile=.0589,upper whisker=.0966}] coordinates {};
\addplot[boxT,boxplot prepared={draw position=3.188,lower whisker=-.0696,lower quartile=.0237,median=.045,upper quartile=.0986,upper whisker=.1215}] coordinates {};
\addplot[boxF,boxplot prepared={draw position=3.814,lower whisker=-.0201,lower quartile=-.0061,median=.0318,upper quartile=.0413,upper whisker=.1017}] coordinates {};
\addplot[boxT,boxplot prepared={draw position=4.186,lower whisker=-.0634,lower quartile=.0036,median=.0679,upper quartile=.0751,upper whisker=.1006}] coordinates {};
% smoother bands
\addplot[edge,name path=tu] coordinates {(0,.0008)(.35,-.0089)(.685,.0022)(1.02,.0246)(1.393,.0316)(1.803,.047)(2.212,.0499)(2.659,.0693)(2.994,.0777)(3.441,.0749)(3.739,.0735)(4,.0832)};
\addplot[edge,name path=tl] coordinates {(0,-.1067)(.35,-.0844)(.685,-.0536)(1.02,-.0369)(1.393,-.0089)(1.803,.0134)(2.212,.0162)(2.659,.0218)(2.994,.0274)(3.441,.0218)(4,-.0089)};
\addplot[draw=none,fill=nonfi,fill opacity=.12] fill between[of=tu and tl];
\addplot[edge,name path=fu] coordinates {(0,-.0816)(.276,-.0397)(.611,-.0006)(1.02,.0274)(1.505,.0022)(1.952,-.0061)(2.324,-.0061)(2.696,.005)(2.994,.019)(3.367,.019)(3.628,.0497)(4,.0749)};
\addplot[edge,name path=fl] coordinates {(0,-.1933)(.276,-.1095)(.611,-.062)(1.02,-.0397)(1.579,-.0508)(2.026,-.0648)(2.51,-.0564)(2.994,-.0536)(3.441,-.0397)(4,-.048)};
\addplot[draw=none,fill=fi,fill opacity=.1] fill between[of=fu and fl];
\addplot[smooth,no markers,fi,line width=1.6pt] coordinates {(0,-.1123)(.164,-.0844)(.313,-.0606)(.462,-.0425)(.629,-.0271)(.834,-.0168)(1.02,-.0112)(1.169,-.0103)(1.356,-.014)(1.579,-.0243)(1.803,-.0318)(1.989,-.0349)(2.212,-.0327)(2.473,-.0257)(2.734,-.0201)(2.994,-.0173)(3.218,-.0151)(3.441,-.0075)(3.665,.005)(3.814,.0112)(4,.0151)};
\addplot[smooth,no markers,nonfi,line width=1.6pt] coordinates {(0,-.0536)(.201,-.0419)(.462,-.0313)(.685,-.0215)(.909,-.0123)(1.132,-.002)(1.356,.0106)(1.579,.0232)(1.803,.0307)(1.989,.0321)(2.212,.033)(2.473,.0385)(2.734,.0455)(2.994,.0503)(3.218,.0508)(3.441,.0489)(3.739,.0427)(4,.0372)};
\node[font=\fs{6.4}] at (axis cs:0,.1469) {ns};
\node[font=\fs{6.4}] at (axis cs:1,.1469) {ns};
\node[font=\fs{6.4}] at (axis cs:4,.1469) {ns};
\node[font=\fs{6.4}] at (axis cs:2,.1495) {**};
\node[font=\fs{6.4}] at (axis cs:3,.1495) {*};
% legend of panel C
\fill[fi,opacity=.08] (axis cs:3.40,-.1318) rectangle (axis cs:3.69,-.1582);
\fill[nonfi,opacity=.08] (axis cs:3.40,-.1582) rectangle (axis cs:3.69,-.1856);
\draw[black!75,line width=.4pt] (axis cs:3.54,-.1358) -- (axis cs:3.54,-.1538);
\draw[black!75,line width=.4pt] (axis cs:3.54,-.1631) -- (axis cs:3.54,-.1811);
\draw[black!75,fill=fi,line width=.6pt] (axis cs:3.428,-.1378) rectangle (axis cs:3.652,-.1518);
\draw[black!75,fill=nonfi,line width=.6pt] (axis cs:3.428,-.1651) rectangle (axis cs:3.652,-.1791);
\node[font=\fs{6.8}\bfseries] at (axis cs:3.667,-.1154) {Group};
\node[font=\fs{5.6},anchor=west,inner sep=0pt] at (axis cs:3.776,-.1448) {FI};
\node[font=\fs{5.6},anchor=west,inner sep=0pt] at (axis cs:3.776,-.1721) {non−FI};
\end{axis}

% ---------- D
\begin{axis}[clean,at={(519.4pt,302.2pt)},width=67.6pt,height=141.4pt,xmin=-.32,xmax=7.44,ymin=.414,ymax=5.597,
  xtick={0,2,4,6},ytick={1,2,3,4,5},
  yticklabels={Carnitine Synthesis,Transfer of Acetyl Groups into Mitochondria,Pantothenate and CoA Biosynthesis,Catecholamine Biosynthesis,Spermidine and Spermine Biosynthesis},
  yticklabel style={font=\fs{5.05}\bfseries},xticklabel style={font=\fs{5.4}},
  xlabel={Enrichment},xoff=11.8pt,label style={font=\fs{6.6}\bfseries}]
\addplot[xbar,bar width=24.5pt,fill=black!65,draw=none] coordinates {(5.82,1)(5.82,2)(6.08,3)(6.4,4)(7.11,5)};
\end{axis}

% ---------- E
\begin{axis}[base,at={(626.8pt,286pt)},width=111.4pt,height=111.2pt,xmin=-.5,xmax=5.5,ymin=-.5,ymax=5.5,
  axis line style={draw=none},major tick length=0pt,colormap name=hm,point meta min=-1,point meta max=1,
  xtick={0,1,2,3,4,5},xticklabels={FI\_diagnosis,DOL,Calprotectin level,Bacterial abundance,Shannon,Observed},
  xticklabel pos=upper,xticklabel style={rotate=90,anchor=west,font=\fs{5.5},text=black},
  ytick={0,1,2,3,4,5},yticklabels={Yellow,green4,Red,Turquoise,Magenta,Pink},yticklabel style={font=\fs{5.4},text=black},
  colorbar,colorbar shift/.style={xshift=1.4pt},
  colorbar style={width=4.4pt,ytick={-1,-.8,-.6,-.4,-.2,0,.2,.4,.6,.8,1},
    yticklabels={−1,−0.8,−0.6,−0.4,−0.2,0,0.2,0.4,0.6,0.8,1},
    yticklabel style={font=\fs{5},text=black},axis line style={draw=black!60,line width=.3pt},major tick length=1pt,tick style={black!60}}]
\addplot[matrix plot*,mesh/cols=6,point meta=explicit] table[x=x,y=y,meta=v] {\hmtab};
\fill[white] (axis cs:2.5,1.5) rectangle (axis cs:3.5,3.5);
\addplot[only marks,mark=none,point meta=explicit symbolic,nodes near coords={\pgfplotspointmeta},
  nodes near coords style={anchor=center,text=white,font=\fs{5.6}\bfseries,inner sep=0pt}] table[x=x,y=y,meta=lab] {\hmtab};
\end{axis}

% ---------- F
\begin{axis}[clean,at={(39.8pt,29.6pt)},width=272.4pt,height=217.8pt,xmin=-.622,xmax=1.126,ymin=-.455,ymax=.592,
  xtick={-.5,0,.5,1},xticklabels={−0.5,0.0,0.5,1.0},ytick={-.4,-.2,0,.2,.4},yticklabels={−0.4,−0.2,0.0,0.2,0.4},
  tick label style={font=\fs{7.7}},xlabel={Correlation with calprotectin level},ylabel={Correlation with total bacterial abundance},
  xoff=17.8pt,yoff=27.6pt,label style={font=\fs{9.8}\bfseries}]
\addplot[no markers,dash pattern=on .7pt off 2.4pt,cred,line width=.7pt] coordinates {(.5,-.455)(.5,.592)};
\addplot[no markers,dash pattern=on .7pt off 2.4pt,cred,line width=.7pt] coordinates {(-.622,.4)(1.126,.4)};
\addplot[only marks,mark=*,mark size=1.55pt,mark options={fill=black!45,draw=black!45}] coordinates {
(.423,.502)(.363,.48)(.377,.475)(.378,.432)(.471,.435)(.357,.42)(.313,.415)(.296,.411)(.253,.41)(.428,.407)(.39,.403)(.399,.397)
(.323,.388)(.454,.388)(.372,.38)(.326,.378)(.34,.377)(.38,.365)(.49,.363)(.205,.355)(.271,.353)(.589,.349)(.233,.341)(.295,.339)
(.225,.325)(.393,.315)(.432,.315)(.305,.309)(.089,.303)(.479,.299)(.517,.294)(.226,.289)(.397,.29)(.361,.289)(.288,.286)(.363,.285)
(.436,.285)(.107,.274)(.174,.267)(.271,.262)(.312,.264)(.355,.25)(.272,.243)(.323,.242)(.334,.243)(.24,.235)(.192,.234)(.253,.225)
(.228,.224)(.401,.224)(.195,.213)(.31,.205)(.122,.195)(.295,.192)(.421,.192)(.079,.188)(.263,.187)(.387,.185)(.051,.182)(.123,.174)
(.237,.174)(.436,.172)(.538,.173)(.28,.168)(.174,.166)(.047,.151)(.062,.146)(.238,.145)(.247,.142)(.302,.14)(.348,.138)(.366,.139)
(.132,.129)(.2,.128)(.319,.125)(-.198,.11)(.292,.106)(.058,.095)(.165,.096)(.48,.085)(.301,.071)(.016,.061)(-.171,.023)(.141,-.01)
(-.321,-.028)(.232,-.032)(-.008,-.11)(-.012,-.139)(-.157,-.129)(-.185,-.134)(-.199,-.165)(-.102,-.191)(-.13,-.198)(-.247,-.196)
(-.482,-.222)(-.195,-.256)(-.543,-.283)(-.387,-.279)(-.275,-.282)(.004,-.285)(.02,-.286)(-.247,-.306)(-.199,-.311)(-.355,-.325)
(-.503,-.341)(-.226,-.348)(-.495,-.368)(-.169,-.383)(-.215,-.385)(-.408,-.402)(-.475,-.407)};
\addplot[no markers,hot,line width=.9pt] coordinates {(.521,.547)(.73,.547)};
\addplot[no markers,hot,line width=.9pt] coordinates {(.538,.471)(.635,.485)};
\addplot[only marks,mark=*,mark size=1.6pt,mark options={fill=hot,draw=hot}] coordinates {(.521,.547)(.538,.471)(.645,.451)};
\node[anchor=west,inner sep=0pt,text=hot,font=\fs{7.8}] at (axis cs:.742,.547) {Pantothenic Acid};
\node[anchor=west,inner sep=0pt,text=hot,font=\fs{7.8}] at (axis cs:.644,.485) {\textit{N}1–Acetylspermidine};
\node[anchor=west,inner sep=0pt,text=hot,font=\fs{7.8}] at (axis cs:.658,.417) {\textit{N}–Acetylcadaverine};
\end{axis}

% ---------- H
\begin{axis}[hax,at={(349pt,26.2pt)},width=109pt,height=113.3pt,xmin=16.19,xmax=23.44,ymin=1.86,ymax=72.2,
  xtick={18,20,22},ytick={20,40,60},xlabel={Pantothenic Acid}]
\addplot[edge,name path=u] coordinates {(16.52,51.22)(17.44,45.7)(18.56,38.43)(19.68,30.87)(20.8,26.87)(21.93,23.4)(23.1,22.03)};
\addplot[edge,name path=l] coordinates {(16.52,27.5)(18,25.99)(19.68,22.44)(20.8,18.08)(21.93,13.72)(23.1,4.13)};
\addplot[hband] fill between[of=u and l];
\addplot[hdot] coordinates {(16.52,33.08)(17.48,26.1)(17.98,27.03)(18.41,22.09)(18.54,53.08)(18.62,46.1)(19.36,29.13)(19.57,14.07)(19.83,21.05)(20.32,40.06)(20.62,37.03)(21.12,34.07)(21.21,27.03)(21.33,28.08)(20.9,26.05)(21.4,56.05)(20.49,22.09)(20.64,21.05)(21.1,19.07)(21.14,14.07)(21.31,12.09)(21.5,11.1)(21.68,15.06)(22.02,13.08)(22.04,10.12)(22.54,9.07)(22.6,7.09)(21.44,6.1)(22.77,14.07)(23.1,17.09)};
\addplot[hline] coordinates {(16.52,39.6)(23.1,14)};
\node[anchor=west,inner sep=0pt,font=\fs{5.7}] at (axis cs:16.54,65.9) {\textit{R} = −0.62, \textit{p} = 0.00029};
\end{axis}

\begin{axis}[hax,at={(483.9pt,26.2pt)},width=108.7pt,height=113.3pt,xmin=12.5,xmax=22.92,ymin=-1.16,ymax=72.18,
  xtick={12.5,15,17.5,20,22.5},xticklabels={12.5,15.0,17.5,20.0,22.5},ytick={0,20,40,60},xlabel={\textit{N}1–Acetylspermidine}]
\addplot[edge,name path=u] coordinates {(12.98,52.9)(14.6,46.06)(16.21,39.4)(17.82,32.1)(19.44,26.67)(21.05,22.42)(22.47,18.97)};
\addplot[edge,name path=l] coordinates {(12.98,30.48)(14.6,28.79)(16.21,26.67)(17.82,23.03)(19.44,18.79)(21.05,12.73)(22.47,2.3)};
\addplot[hband] fill between[of=u and l];
\addplot[hdot] coordinates {(12.98,32.85)(14.73,21.94)(15.59,25.88)(16.26,26.85)(16.53,13.82)(16.37,55.88)(16.34,52.85)(16.26,45.88)(17.23,20.79)(17.34,36.91)(17.66,28.91)(18.17,21.88)(18.76,33.88)(18.71,27.88)(19.19,26.85)(19.68,25.88)(19.19,39.88)(18.76,13.82)(19.06,11.88)(19.44,20.91)(19.81,10.85)(20.05,18.91)(19.33,5.88)(20.56,9.88)(20.56,6.85)(21,12.91)(21.13,8.85)(21.26,14.85)(21.94,13.82)(22.47,16.85)};
\addplot[hline] coordinates {(12.98,41.94)(22.47,10.9)};
\node[anchor=west,inner sep=0pt,font=\fs{5.7}] at (axis cs:13.04,65.6) {\textit{R} = −0.63, \textit{p} = 0.00019};
\end{axis}

\begin{axis}[hax,at={(618.8pt,26.2pt)},width=108.8pt,height=113.3pt,xmin=6.09,xmax=24.91,ymin=1.86,ymax=72.2,
  xtick={10,15,20},ytick={20,40,60},xlabel={\textit{N}–Acetylcadaverine}]
\addplot[edge,name path=u] coordinates {(6.94,53.66)(9.85,47.15)(12.77,40.47)(15.68,33.78)(18.59,28.55)(21.02,25.93)(24.08,25.17)};
\addplot[edge,name path=l] coordinates {(6.94,23.14)(9.85,23.02)(12.77,22.85)(15.68,22.03)(18.59,20.12)(21.02,16.92)(24.08,9.07)};
\addplot[hband] fill between[of=u and l];
\addplot[hdot] coordinates {(6.94,22.09)(10.58,33.08)(13.5,53.08)(13.79,29.13)(14.37,27.03)(15.87,46.1)(16.75,21.05)(17.96,19.07)(18.25,26.05)(18.69,6.1)(19.03,14.07)(19.13,22.09)(19.32,9.07)(19.47,27.03)(19.47,34.07)(19.51,37.03)(19.61,40.06)(19.81,26.05)(20,12.09)(20.39,10.12)(20.68,14.07)(20.87,56.05)(21.12,21.05)(21.17,28.08)(21.07,13.08)(21.17,15.06)(22.72,7.09)(23.54,17.09)(23.74,11.1)(24.03,14.07)};
\addplot[hline] coordinates {(6.94,38.43)(24.08,17.38)};
\node[anchor=west,inner sep=0pt,font=\fs{5.7}] at (axis cs:7.04,65.9) {\textit{R} = −0.41, \textit{p} = 0.026};
\end{axis}

% ---------- G and the panel letters, placed in reference pixels
\begin{scope}[x=0.2pt,y=-0.2pt,yshift=594.8pt]
\foreach \l/\a/\b in {A/58/65,B/60/743,C/936/742,D/2055/742,E/3064/742,F/53/1680,G/1645/1681,H/1642/2289}
  \node[font=\fs{20}\bfseries] at (\a,\b) {\l};
\tikzset{
  nd/.style={fill=node,draw=black,line width=1pt},
  up/.style={arr,line width=2.2pt,-{Triangle[length=6.5pt,width=6.5pt]}},
  dbl/.style={arr,line width=2.4pt,{Triangle[length=6pt,width=6.8pt]}-{Triangle[length=6pt,width=6.8pt]}},
  ttlg/.style={font=\fs{6.5}\bfseries},
  rd/.style={font=\fs{5.2}\bfseries,text=red!90!black},
  pct/.style={font=\fs{10.5}\bfseries,text=node},
  pa/.style={font=\fs{5.2}\bfseries,text=red!90!black},
  pb/.style={font=\fs{5.2}\bfseries},
  rr/.style={font=\fs{5}\bfseries},
  cp/.style={font=\fs{6.5}\bfseries},
}
% first triangle
\node[ttlg] at (1951,1674) {Pantothenic Acid};
\draw[nd] (1943,1740) circle [radius=39]; \draw[nd] (1724,2081) circle [radius=39]; \draw[nd] (2169,2081) circle [radius=39];
\draw[up] (1762,2023) -- (1895,1778); \draw[up] (2008,1780) -- (2141,2025); \draw[dbl] (1801,2081) -- (2109,2081);
\node[rd,rotate=62] at (1790,1879) {\textit{R} = 0.55, \textit{p} = 2.2 × 10\textsuperscript{−16}};
\node[rd,rotate=-62] at (2117,1885) {\textit{R} = 0.51, \textit{p} = 5.4 × 10\textsuperscript{−15}};
\node[pct] at (1958,1884) {69.9\%};
\node[pa] at (1951,1964) {\textit{P}\textsubscript{ACEM} < 2 × 10\textsuperscript{−16}};
\node[pb] at (1951,1998) {\textit{P}\textsubscript{ADE} = 0.11};
\node[rr] at (1958,2121) {R = 0.34, \textit{p} = 3.7 × 10\textsuperscript{−8}};
\node[cp] at (1722,2143) {Bacterial}; \node[cp] at (1722,2183) {abundance};
\node[cp] at (2171,2140) {Fecal}; \node[cp] at (2171,2178) {Calprotectin};
% second triangle
\node[ttlg] at (2671,1675) {\textit{N}1–Acetylspermidine};
\draw[nd] (2674,1741) circle [radius=39]; \draw[nd] (2453,2083) circle [radius=39]; \draw[nd] (2900,2083) circle [radius=39];
\draw[up] (2493,2033) -- (2626,1786); \draw[up] (2736,1776) -- (2872,2023); \draw[dbl] (2528,2083) -- (2840,2083);
\node[rd,rotate=62] at (2523,1887) {\textit{R} = 0.55, \textit{p} = 3.4 × 10\textsuperscript{−13}};
\node[rd,rotate=-62] at (2840,1884) {\textit{R} = 0.51, \textit{p} = 3.2 × 10\textsuperscript{−15}};
\node[pct] at (2686,1887) {65.8\%};
\node[pa] at (2682,1966) {\textit{P}\textsubscript{ACEM} < 2 × 10\textsuperscript{−16}};
\node[pb] at (2682,2000) {\textit{P}\textsubscript{ADE} = 0.03};
\node[rr] at (2687,2122) {R = 0.34, \textit{p} = 3.7 × 10\textsuperscript{−8}};
\node[cp] at (2455,2143) {Bacterial}; \node[cp] at (2455,2181) {abundance};
\node[cp] at (2910,2145) {Fecal}; \node[cp] at (2910,2185) {Calprotectin};
% third triangle
\node[ttlg] at (3402,1677) {\textit{N}–Acetylcadaverine};
\draw[nd] (3401,1741) circle [radius=39]; \draw[nd] (3178.5,2083) circle [radius=39]; \draw[nd] (3625.5,2083) circle [radius=39];
\draw[up] (3216,2026) -- (3350,1780); \draw[up] (3460,1778) -- (3596,2023); \draw[dbl] (3254,2085) -- (3565,2085);
\node[rd,rotate=62] at (3239,1884) {\textit{R} = 0.45, \textit{p} = 5.7 × 10\textsuperscript{−9}};
\node[rd,rotate=-62] at (3564,1883) {\textit{R} = 0.6, \textit{p} = 2.2 × 10\textsuperscript{−16}};
\node[pct] at (3410,1887) {74.3\%};
\node[pa] at (3409,1967) {\textit{P}\textsubscript{ACEM} < 2 × 10\textsuperscript{−16}};
\node[pb] at (3406,2001) {\textit{P}\textsubscript{ADE} = 0.12};
\node[rr] at (3416,2122) {R = 0.34, \textit{p} = 3.7 × 10\textsuperscript{−8}};
\node[cp] at (3178,2145) {Bacterial}; \node[cp] at (3178,2185) {abundance};
\node[cp] at (3631,2148) {Fecal}; \node[cp] at (3631,2187) {Calprotectin};
\end{scope}
\pgfresetboundingbox
\useasboundingbox (0,0) rectangle (760.8pt,594.8pt);
\end{tikzpicture}
\end{document}
